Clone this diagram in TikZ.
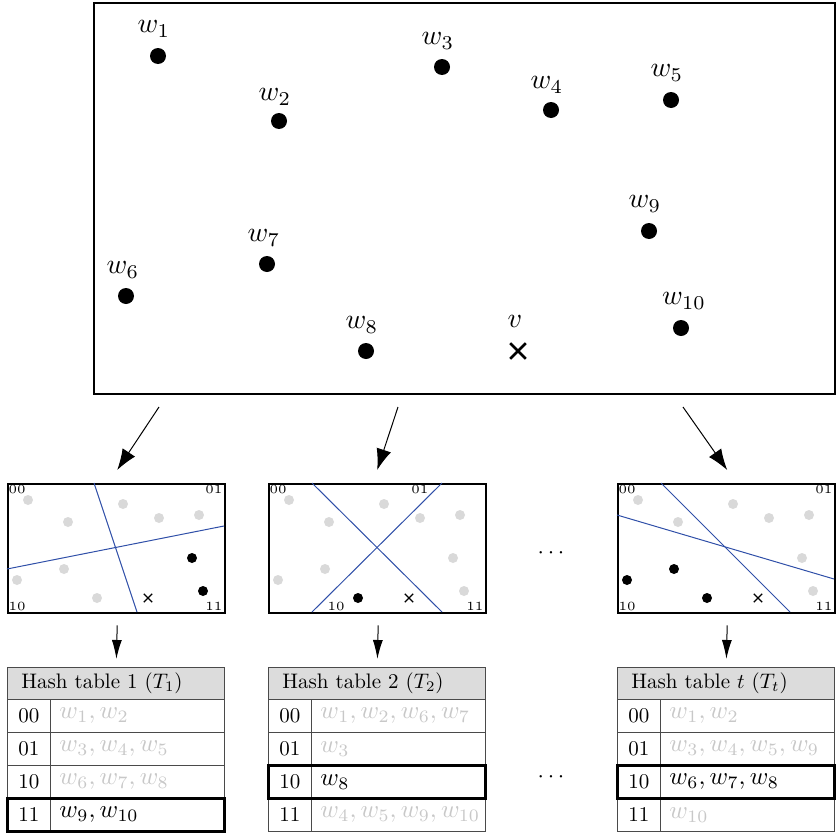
\documentclass[tikz,border=0pt]{standalone}
\usepackage{graphicx}
\usetikzlibrary{arrows.meta,calc,shapes.misc}

\definecolor{dotgray}{HTML}{D9D9D9}
\definecolor{txtgray}{HTML}{C8C8C8}
\definecolor{hdrgray}{HTML}{DCDCDC}
\definecolor{cutblue}{HTML}{2F4FA8}
\definecolor{tabline}{HTML}{4A4A4A}

% text sizes: 10pt designs scaled up
\newcommand\bigtxt[1]{\scalebox{2.8}{#1}}
\newcommand\tabtxt[1]{\scalebox{2.1}{#1}}
\newcommand\valtxt[1]{\scalebox{2.5}{#1}}
\newcommand\tinytxt[1]{\scalebox{2.5}{\fontsize{5}{6}\selectfont #1}}

% one row of a hash table: prefix, left x, row index, key, entries, style
\newcommand\hashrow[6]{%
  \node[keycell, anchor=north west] (#1k#3) at (#2, 699+33*#3) {\tabtxt{#4}};
  \node[valcell, #6, anchor=north west] (#1v#3) at (#2+43, 699+33*#3) {\valtxt{#5}};
}

\begin{document}
\begin{tikzpicture}[x=1pt,y=-1pt,
  bigdot/.style={circle,fill=black,inner sep=0pt,minimum size=16pt},
  bigcross/.style={cross out,draw=black,line width=2.6pt,inner sep=0pt,minimum size=13pt},
  wlab/.style={inner sep=0pt},
  frame/.style={draw=black,line width=2pt,fill=white},
  minibox/.style={draw=black,line width=2.4pt,inner sep=0pt,minimum width=217pt,minimum height=129pt},
  gdot/.style={circle,fill=dotgray,inner sep=0pt,minimum size=10pt},
  kdot/.style={circle,fill=black,inner sep=0pt,minimum size=10pt},
  smallcross/.style={cross out,draw=black,line width=1.3pt,inner sep=0pt,minimum size=7pt},
  cut/.style={draw=cutblue,line width=1pt},
  corner/.style={inner sep=1.5pt},
  bigarrow/.style={-{Latex[length=21pt,width=15pt]},line width=1pt},
  smallarrow/.style={-{Latex[length=19pt,width=10pt]},line width=1pt},
  hdr/.style={draw=tabline,line width=0.8pt,fill=hdrgray,minimum width=217pt,text width=189pt,
              inner xsep=14pt,minimum height=32pt,align=left},
  keycell/.style={draw=tabline,line width=0.8pt,minimum width=43pt,minimum height=33pt,inner sep=0pt},
  valcell/.style={draw=tabline,line width=0.8pt,minimum width=174pt,text width=156pt,inner xsep=9pt,
                  minimum height=33pt,align=left},
  dim/.style={text=txtgray},
  live/.style={text=black},
  hit/.style={draw=black,line width=3pt},
]
\useasboundingbox (0,0) rectangle (838,835);

% ---------- data space ----------
\node[frame,minimum width=741pt,minimum height=391pt,anchor=north west] (B) at (93,2) {};

\node[bigdot] (w1) at (158,56) {};
\node[bigdot] (w2) at (279,121) {};
\node[bigdot] (w3) at (442,67) {};
\node[bigdot] (w4) at (551,110) {};
\node[bigdot] (w5) at (671,100) {};
\node[bigdot] (w6) at (126,296) {};
\node[bigdot] (w7) at (267,264) {};
\node[bigdot] (w8) at (366,351) {};
\node[bigdot] (w9) at (649,231) {};
\node[bigdot] (w10) at (681,328) {};
\node[bigcross] (v) at (518,351) {};

\node[wlab] (lw1) at ($(w1)+(-4,-27)$) {\bigtxt{$w_1$}};
\node[wlab] (lw2) at ($(w2)+(-4,-24)$) {\bigtxt{$w_2$}};
\node[wlab] (lw3) at ($(w3)+(-4,-26)$) {\bigtxt{$w_3$}};
\node[wlab] (lw4) at ($(w4)+(-4,-25)$) {\bigtxt{$w_4$}};
\node[wlab] (lw5) at ($(w5)+(-4,-27)$) {\bigtxt{$w_5$}};
\node[wlab] (lw6) at ($(w6)+(-3,-26)$) {\bigtxt{$w_6$}};
\node[wlab] (lw7) at ($(w7)+(-3,-26)$) {\bigtxt{$w_7$}};
\node[wlab] (lw8) at ($(w8)+(-4,-26)$) {\bigtxt{$w_8$}};
\node[wlab] (lw9) at ($(w9)+(-4,-27)$) {\bigtxt{$w_9$}};
\node[wlab] (lw10) at ($(w10)+(3,-27)$) {\bigtxt{$w_{10}$}};
\node[wlab] (lv) at ($(v)+(-3,-30)$) {\bigtxt{$v$}};

% ---------- partitions ----------
\node[minibox,anchor=north west] (b1) at (7,483) {};
\node[minibox,anchor=north west] (b2) at (268,483) {};
\node[minibox,anchor=north west] (b3) at (617,483) {};

% partition 1
\begin{scope}[shift={(b1.north west)}]
  \draw[cut] (87,0) -- (130,129);
  \draw[cut] (0,86) -- (217,43);
  \node[gdot] (p1a) at (21,17) {};
  \node[gdot] (p1b) at (61,39) {};
  \node[gdot] (p1c) at (116,21) {};
  \node[gdot] (p1d) at (152,35) {};
  \node[gdot] (p1e) at (192,32) {};
  \node[gdot] (p1f) at (10,97) {};
  \node[gdot] (p1g) at (57,86) {};
  \node[gdot] (p1h) at (90,115) {};
  \node[kdot] (p1i) at (185,75) {};
  \node[kdot] (p1j) at (196,108) {};
  \node[smallcross] (q1) at (141,115) {};
  \node[corner,anchor=north west] (c1a) at (0,0) {\tinytxt{00}};
  \node[corner,anchor=north east] (c1b) at (217,0) {\tinytxt{01}};
  \node[corner,anchor=south west] (c1c) at (0,129) {\tinytxt{10}};
  \node[corner,anchor=south east] (c1d) at (217,129) {\tinytxt{11}};
\end{scope}

% partition 2
\begin{scope}[shift={(b2.north west)}]
  \draw[cut] (44,0) -- (174,129);
  \draw[cut] (44,129) -- (174,0);
  \node[gdot] (p2a) at (21,17) {};
  \node[gdot] (p2b) at (61,39) {};
  \node[gdot] (p2c) at (116,21) {};
  \node[gdot] (p2d) at (152,35) {};
  \node[gdot] (p2e) at (192,32) {};
  \node[gdot] (p2f) at (10,97) {};
  \node[gdot] (p2g) at (57,86) {};
  \node[kdot] (p2h) at (90,115) {};
  \node[gdot] (p2i) at (185,75) {};
  \node[gdot] (p2j) at (196,108) {};
  \node[smallcross] (q2) at (141,115) {};
  \node[corner,anchor=north west] (c2a) at (0,0) {\tinytxt{00}};
  \node[corner,anchor=north east] (c2b) at (162,0) {\tinytxt{01}};
  \node[corner,anchor=south west] (c2c) at (58,129) {\tinytxt{10}};
  \node[corner,anchor=south east] (c2d) at (217,129) {\tinytxt{11}};
\end{scope}

% partition t
\begin{scope}[shift={(b3.north west)}]
  \draw[cut] (44,0) -- (173,129);
  \draw[cut] (0,32) -- (217,96);
  \node[gdot] (p3a) at (21,17) {};
  \node[gdot] (p3b) at (61,39) {};
  \node[gdot] (p3c) at (116,21) {};
  \node[gdot] (p3d) at (152,35) {};
  \node[gdot] (p3e) at (192,32) {};
  \node[kdot] (p3f) at (10,97) {};
  \node[kdot] (p3g) at (57,86) {};
  \node[kdot] (p3h) at (90,115) {};
  \node[gdot] (p3i) at (185,75) {};
  \node[gdot] (p3j) at (196,108) {};
  \node[smallcross] (q3) at (141,115) {};
  \node[corner,anchor=north west] (c3a) at (0,0) {\tinytxt{00}};
  \node[corner,anchor=north east] (c3b) at (217,0) {\tinytxt{01}};
  \node[corner,anchor=south west] (c3c) at (0,129) {\tinytxt{10}};
  \node[corner,anchor=south east] (c3d) at (217,129) {\tinytxt{11}};
\end{scope}

\node (gap1) at (551,553) {\scalebox{2.3}{$\cdots$}};

% ---------- arrows from data space to partitions ----------
\coordinate (a1s) at ($(B.south west)+(66,12)$);
\coordinate (a2s) at ($(B.south west)+(305,12)$);
\coordinate (a3s) at ($(B.south west)+(590,12)$);
\coordinate (a1e) at ($(b1.north)+(0.5,-13)$);
\coordinate (a2e) at ($(b2.north)+(-0.5,-13)$);
\coordinate (a3e) at ($(b3.north)+(0.5,-13)$);
\draw[bigarrow] (a1s) -- (a1e);
\draw[bigarrow] (a2s) -- (a2e);
\draw[bigarrow] (a3s) -- (a3e);

% ---------- hash tables ----------
\node[hdr,anchor=north west] (t1h) at (7,667) {\tabtxt{Hash table 1 ($T_1$)}};
\hashrow{t1}{7}{0}{00}{$w_1, w_2$}{dim}
\hashrow{t1}{7}{1}{01}{$w_3, w_4, w_5$}{dim}
\hashrow{t1}{7}{2}{10}{$w_6, w_7, w_8$}{dim}
\hashrow{t1}{7}{3}{11}{$w_9, w_{10}$}{live}
\draw[hit] (t1k3.north west) rectangle (t1v3.south east);

\node[hdr,anchor=north west] (t2h) at (268,667) {\tabtxt{Hash table 2 ($T_2$)}};
\hashrow{t2}{268}{0}{00}{$w_1, w_2, w_6, w_7$}{dim}
\hashrow{t2}{268}{1}{01}{$w_3$}{dim}
\hashrow{t2}{268}{2}{10}{$w_8$}{live}
\hashrow{t2}{268}{3}{11}{$w_4, w_5, w_9, w_{10}$}{dim}
\draw[hit] (t2k2.north west) rectangle (t2v2.south east);

\node[hdr,anchor=north west] (t3h) at (617,667) {\tabtxt{Hash table $t$ ($T_t$)}};
\hashrow{t3}{617}{0}{00}{$w_1, w_2$}{dim}
\hashrow{t3}{617}{1}{01}{$w_3, w_4, w_5, w_9$}{dim}
\hashrow{t3}{617}{2}{10}{$w_6, w_7, w_8$}{live}
\hashrow{t3}{617}{3}{11}{$w_{10}$}{dim}
\draw[hit] (t3k2.north west) rectangle (t3v2.south east);

\node (gap2) at (551,777) {\scalebox{2.3}{$\cdots$}};

% ---------- arrows from partitions to tables ----------
\coordinate (s1s) at ($(b1.south)+(0.5,11)$);
\coordinate (s2s) at ($(b2.south)+(0.5,11)$);
\coordinate (s3s) at ($(b3.south)+(0.5,11)$);
\coordinate (s1e) at ($(t1h.north)+(0.5,-8)$);
\coordinate (s2e) at ($(t2h.north)+(0.5,-8)$);
\coordinate (s3e) at ($(t3h.north)+(0.5,-8)$);
\draw[smallarrow] (s1s) -- (s1e);
\draw[smallarrow] (s2s) -- (s2e);
\draw[smallarrow] (s3s) -- (s3e);
\end{tikzpicture}
\end{document}
